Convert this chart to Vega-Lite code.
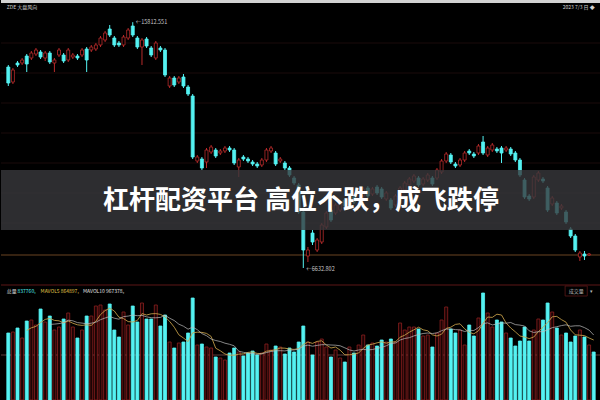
{
"$schema":"https://vega.github.io/schema/vega-lite/v6.json",
"background":"#000000",
"padding":0,
"spacing":0,
"config":{"view":{"stroke":null},"text":{"font":"Noto Sans CJK SC"}},
"datasets":{"k":[
{"i":0,"o":14020,"h":14100,"l":13260,"c":13380,"v":670000},
{"i":1,"o":13420,"h":13980,"l":13340,"c":13900,"v":680000},
{"i":2,"o":14180,"h":14260,"l":14020,"c":14100,"v":720000},
{"i":3,"o":14180,"h":14380,"l":14100,"c":14300,"v":620000},
{"i":4,"o":14460,"h":14540,"l":13820,"c":14140,"v":790000},
{"i":5,"o":14380,"h":14660,"l":14300,"c":14580,"v":800000},
{"i":6,"o":14540,"h":14780,"l":14460,"c":14700,"v":750000},
{"i":7,"o":14620,"h":14700,"l":14340,"c":14420,"v":910000},
{"i":8,"o":14380,"h":14660,"l":14260,"c":14580,"v":780000},
{"i":9,"o":14580,"h":14660,"l":14140,"c":14220,"v":840000},
{"i":10,"o":14180,"h":14380,"l":13820,"c":14300,"v":700000},
{"i":11,"o":14500,"h":14780,"l":14420,"c":14700,"v":730000},
{"i":12,"o":14500,"h":14580,"l":14180,"c":14260,"v":810000},
{"i":13,"o":14300,"h":14780,"l":14220,"c":14700,"v":870000},
{"i":14,"o":14420,"h":14580,"l":14340,"c":14500,"v":730000},
{"i":15,"o":14460,"h":14540,"l":14300,"c":14380,"v":620000},
{"i":16,"o":14500,"h":14780,"l":14420,"c":14700,"v":700000},
{"i":17,"o":14740,"h":14820,"l":13820,"c":14300,"v":840000},
{"i":18,"o":14700,"h":14900,"l":14620,"c":14820,"v":840000},
{"i":19,"o":14740,"h":14980,"l":14660,"c":14900,"v":940000},
{"i":20,"o":14900,"h":15260,"l":14820,"c":15180,"v":950000},
{"i":21,"o":15100,"h":15460,"l":15020,"c":15380,"v":900000},
{"i":22,"o":15540,"h":15700,"l":15220,"c":15300,"v":960000},
{"i":23,"o":15180,"h":15260,"l":14820,"c":14900,"v":700000},
{"i":24,"o":14980,"h":15060,"l":14820,"c":14900,"v":630000},
{"i":25,"o":14900,"h":15300,"l":14820,"c":15220,"v":880000},
{"i":26,"o":15180,"h":15580,"l":15100,"c":15500,"v":750000},
{"i":27,"o":15660,"h":15812.551,"l":15220,"c":15300,"v":940000},
{"i":28,"o":15180,"h":15260,"l":14740,"c":14820,"v":780000},
{"i":29,"o":14820,"h":15180,"l":14100,"c":15100,"v":970000},
{"i":30,"o":15140,"h":15220,"l":14780,"c":14860,"v":810000},
{"i":31,"o":14780,"h":14860,"l":14420,"c":14500,"v":810000},
{"i":32,"o":14380,"h":15060,"l":14300,"c":14980,"v":950000},
{"i":33,"o":14780,"h":14860,"l":14620,"c":14700,"v":740000},
{"i":34,"o":14700,"h":14780,"l":13620,"c":13700,"v":850000},
{"i":35,"o":13260,"h":13660,"l":13180,"c":13580,"v":580000},
{"i":36,"o":13580,"h":13660,"l":13220,"c":13300,"v":520000},
{"i":37,"o":13420,"h":13660,"l":13340,"c":13580,"v":570000},
{"i":38,"o":13620,"h":13740,"l":13180,"c":13260,"v":580000},
{"i":39,"o":13220,"h":13300,"l":12860,"c":12940,"v":670000},
{"i":40,"o":12860,"h":12940,"l":10340,"c":10420,"v":1020000},
{"i":41,"o":10260,"h":10500,"l":10180,"c":10420,"v":550000},
{"i":42,"o":10340,"h":10420,"l":9900,"c":9980,"v":560000},
{"i":43,"o":10220,"h":10780,"l":9980,"c":10700,"v":530000},
{"i":44,"o":10620,"h":10900,"l":10540,"c":10820,"v":520000},
{"i":45,"o":10700,"h":10780,"l":10380,"c":10460,"v":430000},
{"i":46,"o":10580,"h":10740,"l":10500,"c":10660,"v":420000},
{"i":47,"o":10660,"h":10860,"l":10580,"c":10780,"v":400000},
{"i":48,"o":10780,"h":10860,"l":10620,"c":10700,"v":470000},
{"i":49,"o":10700,"h":10780,"l":10100,"c":10180,"v":520000},
{"i":50,"o":10020,"h":10380,"l":9620,"c":10300,"v":480000},
{"i":51,"o":10420,"h":10500,"l":10260,"c":10340,"v":440000},
{"i":52,"o":10340,"h":10420,"l":10180,"c":10260,"v":470000},
{"i":53,"o":10220,"h":10300,"l":10060,"c":10140,"v":490000},
{"i":54,"o":10140,"h":10220,"l":9980,"c":10060,"v":450000},
{"i":55,"o":10100,"h":10380,"l":10020,"c":10300,"v":470000},
{"i":56,"o":10300,"h":10780,"l":10220,"c":10700,"v":560000},
{"i":57,"o":10660,"h":10860,"l":10580,"c":10780,"v":500000},
{"i":58,"o":10580,"h":10660,"l":10060,"c":10140,"v":540000},
{"i":59,"o":10260,"h":10420,"l":10180,"c":10340,"v":530000},
{"i":60,"o":10180,"h":10260,"l":9900,"c":9980,"v":460000},
{"i":61,"o":9980,"h":10060,"l":9620,"c":9700,"v":520000},
{"i":62,"o":9580,"h":9660,"l":9300,"c":9380,"v":480000},
{"i":63,"o":9300,"h":9380,"l":8140,"c":8220,"v":580000},
{"i":64,"o":8220,"h":8300,"l":5980,"c":6700,"v":740000},
{"i":65,"o":6460,"h":6820,"l":6220,"c":6700,"v":580000},
{"i":66,"o":7380,"h":7500,"l":6900,"c":7020,"v":450000},
{"i":67,"o":6700,"h":7180,"l":6620,"c":7100,"v":580000},
{"i":68,"o":7020,"h":7780,"l":6940,"c":7700,"v":610000},
{"i":69,"o":7620,"h":8260,"l":7540,"c":8180,"v":530000},
{"i":70,"o":8300,"h":8380,"l":7820,"c":7900,"v":430000},
{"i":71,"o":8180,"h":8580,"l":8100,"c":8500,"v":500000},
{"i":72,"o":8300,"h":8660,"l":8220,"c":8580,"v":420000},
{"i":73,"o":8700,"h":8780,"l":8380,"c":8460,"v":380000},
{"i":74,"o":8500,"h":8860,"l":8420,"c":8780,"v":530000},
{"i":75,"o":8820,"h":8900,"l":8540,"c":8620,"v":470000},
{"i":76,"o":8700,"h":9060,"l":8620,"c":8980,"v":550000},
{"i":77,"o":8860,"h":9220,"l":8780,"c":9140,"v":650000},
{"i":78,"o":9180,"h":9260,"l":8780,"c":8860,"v":550000},
{"i":79,"o":8940,"h":9220,"l":8860,"c":9140,"v":570000},
{"i":80,"o":9220,"h":9300,"l":8900,"c":8980,"v":540000},
{"i":81,"o":9140,"h":9220,"l":8740,"c":8820,"v":600000},
{"i":82,"o":8740,"h":9060,"l":8660,"c":8980,"v":580000},
{"i":83,"o":8700,"h":8780,"l":8300,"c":8380,"v":610000},
{"i":84,"o":8500,"h":8940,"l":8420,"c":8860,"v":580000},
{"i":85,"o":8820,"h":9260,"l":8740,"c":9180,"v":770000},
{"i":86,"o":9100,"h":9460,"l":9020,"c":9380,"v":700000},
{"i":87,"o":9300,"h":9620,"l":9220,"c":9540,"v":730000},
{"i":88,"o":9460,"h":9740,"l":9380,"c":9660,"v":730000},
{"i":89,"o":9580,"h":9660,"l":9220,"c":9300,"v":710000},
{"i":90,"o":9340,"h":9620,"l":9260,"c":9540,"v":640000},
{"i":91,"o":9500,"h":9780,"l":9420,"c":9700,"v":650000},
{"i":92,"o":9580,"h":9660,"l":9260,"c":9340,"v":530000},
{"i":93,"o":9580,"h":9980,"l":9500,"c":9900,"v":670000},
{"i":94,"o":9820,"h":10340,"l":9740,"c":10260,"v":800000},
{"i":95,"o":10260,"h":10620,"l":10180,"c":10540,"v":930000},
{"i":96,"o":10500,"h":10580,"l":10140,"c":10220,"v":710000},
{"i":97,"o":10140,"h":10220,"l":9980,"c":10060,"v":670000},
{"i":98,"o":10100,"h":10380,"l":10020,"c":10300,"v":700000},
{"i":99,"o":10300,"h":10660,"l":10220,"c":10580,"v":550000},
{"i":100,"o":10660,"h":10740,"l":10500,"c":10580,"v":750000},
{"i":101,"o":10540,"h":10620,"l":10380,"c":10460,"v":640000},
{"i":102,"o":10580,"h":10940,"l":10500,"c":10860,"v":820000},
{"i":103,"o":11020,"h":11260,"l":10500,"c":10580,"v":1070000},
{"i":104,"o":10500,"h":10860,"l":10420,"c":10780,"v":870000},
{"i":105,"o":10700,"h":10980,"l":10620,"c":10900,"v":730000},
{"i":106,"o":10740,"h":10820,"l":10580,"c":10660,"v":800000},
{"i":107,"o":10780,"h":10860,"l":10180,"c":10580,"v":780000},
{"i":108,"o":10700,"h":10860,"l":10620,"c":10780,"v":670000},
{"i":109,"o":10740,"h":10820,"l":10460,"c":10540,"v":620000},
{"i":110,"o":10580,"h":10660,"l":10220,"c":10300,"v":540000},
{"i":111,"o":10300,"h":10380,"l":9620,"c":9700,"v":590000},
{"i":112,"o":9500,"h":9580,"l":8740,"c":8820,"v":730000},
{"i":113,"o":8860,"h":8940,"l":8660,"c":8740,"v":590000},
{"i":114,"o":8820,"h":9700,"l":8740,"c":9620,"v":700000},
{"i":115,"o":9500,"h":9860,"l":9420,"c":9780,"v":810000},
{"i":116,"o":9540,"h":9620,"l":9380,"c":9460,"v":800000},
{"i":117,"o":9180,"h":9260,"l":8220,"c":8300,"v":970000},
{"i":118,"o":8540,"h":8860,"l":8460,"c":8780,"v":880000},
{"i":119,"o":8580,"h":8660,"l":8100,"c":8180,"v":720000},
{"i":120,"o":8380,"h":8540,"l":8300,"c":8460,"v":650000},
{"i":121,"o":8220,"h":8300,"l":7740,"c":7820,"v":670000},
{"i":122,"o":7540,"h":7620,"l":7180,"c":7260,"v":580000},
{"i":123,"o":7260,"h":7340,"l":6620,"c":6700,"v":640000},
{"i":124,"o":6420,"h":6660,"l":6260,"c":6580,"v":700000},
{"i":125,"o":6540,"h":6660,"l":6300,"c":6460,"v":630000},
{"i":126,"o":6500,"h":6580,"l":6460,"c":6540,"v":550000},
{"i":127,"v":480000}
]},
"vconcat":[
{"width":600,"height":282,"layer":[
 {"data":{"values":[{"t":16700,"b":16580}]},"mark":{"type":"rect","color":"#d2d2d2"},
  "encoding":{"y":{"field":"t","type":"quantitative","scale":{"domain":[5420,16700],"nice":false,"zero":false},"axis":null},"y2":{"field":"b"}}},
 {"data":{"values":[{"p":14980},{"p":13780},{"p":12580},{"p":11380},{"p":10180},{"p":8980},{"p":7780}]},"mark":{"type":"rule","color":"#1a0a0a","strokeWidth":1},
  "encoding":{"y":{"field":"p","type":"quantitative","scale":{"domain":[5420,16700],"nice":false,"zero":false},"axis":null}}},
 {"data":{"values":[{"p":6500}]},"mark":{"type":"rule","color":"#6a4422","strokeWidth":1},
  "encoding":{"y":{"field":"p","type":"quantitative","scale":{"domain":[5420,16700],"nice":false,"zero":false},"axis":null}}},
 {"data":{"name":"k"},"mark":{"type":"rule","strokeWidth":1},
  "encoding":{"x":{"field":"i","type":"quantitative","scale":{"domain":[-0.5,127.5],"nice":false,"zero":false},"axis":null},
   "y":{"field":"h","type":"quantitative","scale":{"domain":[5420,16700],"nice":false,"zero":false},"axis":null},"y2":{"field":"l"},
   "color":{"condition":{"test":"datum.c > datum.o","value":"#b82b2b"},"value":"#54f2f2"}}},
 {"data":{"name":"k"},"mark":{"type":"bar","size":3,"strokeWidth":0.8},
  "encoding":{"x":{"field":"i","type":"quantitative","scale":{"domain":[-0.5,127.5],"nice":false,"zero":false},"axis":null},
   "y":{"field":"o","type":"quantitative","scale":{"domain":[5420,16700],"nice":false,"zero":false},"axis":null},"y2":{"field":"c"},
   "fill":{"condition":{"test":"datum.c > datum.o","value":"#000000"},"value":"#54f2f2"},
   "stroke":{"condition":{"test":"datum.c > datum.o","value":"#b82b2b"},"value":"#54f2f2"}}},
 {"data":{"values":[{"i":27,"p":15812.551,"t":"←15812.551"},{"i":64,"p":5950,"t":"←6632.802"}]},
  "mark":{"type":"text","align":"left","baseline":"middle","dx":3,"fontSize":5.5,"color":"#c8c8c8"},
  "encoding":{"x":{"field":"i","type":"quantitative","scale":{"domain":[-0.5,127.5],"nice":false,"zero":false},"axis":null},
   "y":{"field":"p","type":"quantitative","scale":{"domain":[5420,16700],"nice":false,"zero":false},"axis":null},"text":{"field":"t"}}},
 {"data":{"values":[{"t":9900,"b":7500}]},"mark":{"type":"rect","color":"#38383c","opacity":0.8},
  "encoding":{"y":{"field":"t","type":"quantitative","scale":{"domain":[5420,16700],"nice":false,"zero":false},"axis":null},"y2":{"field":"b"}}},
 {"data":{"values":[{"p":8660,"t":"杠杆配资平台 高位不跌，成飞跌停"}]},
  "mark":{"type":"text","align":"center","baseline":"middle","fontSize":26,"fontWeight":"bold","color":"#ffffff","font":"Noto Sans CJK SC"},
  "encoding":{"y":{"field":"p","type":"quantitative","scale":{"domain":[5420,16700],"nice":false,"zero":false},"axis":null},"text":{"field":"t"}}},
 {"data":{"values":[{"i":0,"p":16420,"t":"ZDE  大盘风向"}]},
  "mark":{"type":"text","align":"left","baseline":"middle","dx":-1.5,"fontSize":5,"color":"#d0d0d0"},
  "encoding":{"x":{"field":"i","type":"quantitative","scale":{"domain":[-0.5,127.5],"nice":false,"zero":false},"axis":null},
   "y":{"field":"p","type":"quantitative","scale":{"domain":[5420,16700],"nice":false,"zero":false},"axis":null},"text":{"field":"t"}}},
 {"data":{"values":[{"i":127,"p":16420,"t":"2023 7/3 日 ◆"}]},
  "mark":{"type":"text","align":"right","baseline":"middle","dx":1,"fontSize":5,"color":"#d0d0d0"},
  "encoding":{"x":{"field":"i","type":"quantitative","scale":{"domain":[-0.5,127.5],"nice":false,"zero":false},"axis":null},
   "y":{"field":"p","type":"quantitative","scale":{"domain":[5420,16700],"nice":false,"zero":false},"axis":null},"text":{"field":"t"}}}
]},
{"width":600,"height":118,"layer":[
 {"data":{"values":[{"v":1150000}]},"mark":{"type":"rule","color":"#5c1616","strokeWidth":1},
  "encoding":{"y":{"field":"v","type":"quantitative","scale":{"domain":[0,1180000],"nice":false},"axis":null}}},
 {"data":{"values":[{"v":450000}]},"mark":{"type":"rule","color":"#5e3c3c","strokeWidth":1},
  "encoding":{"y":{"field":"v","type":"quantitative","scale":{"domain":[0,1180000],"nice":false},"axis":null}}},
 {"data":{"name":"k"},"mark":{"type":"bar","size":3,"strokeWidth":0.8},
  "encoding":{"x":{"field":"i","type":"quantitative","scale":{"domain":[-0.5,127.5],"nice":false,"zero":false},"axis":null},
   "y":{"field":"v","type":"quantitative","scale":{"domain":[0,1180000],"nice":false},"axis":null},
   "fill":{"condition":{"test":"datum.c > datum.o","value":"#1a0404"},"value":"#54f2f2"},
   "stroke":{"condition":{"test":"datum.c > datum.o","value":"#8e2020"},"value":"#54f2f2"}}},
 {"data":{"name":"k"},
  "transform":[{"window":[{"op":"mean","field":"v","as":"ma5"}],"frame":[-4,0],"sort":[{"field":"i"}]},{"filter":"datum.i >= 4"}],
  "mark":{"type":"line","color":"#c9a24a","strokeWidth":1,"opacity":0.85},
  "encoding":{"x":{"field":"i","type":"quantitative","scale":{"domain":[-0.5,127.5],"nice":false,"zero":false},"axis":null},
   "y":{"field":"ma5","type":"quantitative","scale":{"domain":[0,1180000],"nice":false},"axis":null}}},
 {"data":{"name":"k"},
  "transform":[{"window":[{"op":"mean","field":"v","as":"ma10"}],"frame":[-9,0],"sort":[{"field":"i"}]},{"filter":"datum.i >= 9"}],
  "mark":{"type":"line","color":"#bdbdbd","strokeWidth":1,"opacity":0.7},
  "encoding":{"x":{"field":"i","type":"quantitative","scale":{"domain":[-0.5,127.5],"nice":false,"zero":false},"axis":null},
   "y":{"field":"ma10","type":"quantitative","scale":{"domain":[0,1180000],"nice":false},"axis":null}}},
 {"data":{"values":[{"i":0,"v":1090000,"t":"总量"}]},
  "mark":{"type":"text","align":"left","baseline":"middle","dx":-1.5,"fontSize":5,"color":"#d8d8d8"},
  "encoding":{"x":{"field":"i","type":"quantitative","scale":{"domain":[-0.5,127.5],"nice":false,"zero":false},"axis":null},
   "y":{"field":"v","type":"quantitative","scale":{"domain":[0,1180000],"nice":false},"axis":null},"text":{"field":"t"}}},
 {"data":{"values":[{"i":2,"v":1090000,"t":"837760,"}]},
  "mark":{"type":"text","align":"left","baseline":"middle","dx":0,"fontSize":5,"color":"#54f2f2"},
  "encoding":{"x":{"field":"i","type":"quantitative","scale":{"domain":[-0.5,127.5],"nice":false,"zero":false},"axis":null},
   "y":{"field":"v","type":"quantitative","scale":{"domain":[0,1180000],"nice":false},"axis":null},"text":{"field":"t"}}},
 {"data":{"values":[{"i":7,"v":1090000,"t":"MAVOL5  864897,"}]},
  "mark":{"type":"text","align":"left","baseline":"middle","dx":0,"fontSize":5,"color":"#e0c84a"},
  "encoding":{"x":{"field":"i","type":"quantitative","scale":{"domain":[-0.5,127.5],"nice":false,"zero":false},"axis":null},
   "y":{"field":"v","type":"quantitative","scale":{"domain":[0,1180000],"nice":false},"axis":null},"text":{"field":"t"}}},
 {"data":{"values":[{"i":16,"v":1090000,"t":"MAVOL10  967378,"}]},
  "mark":{"type":"text","align":"left","baseline":"middle","dx":1,"fontSize":5,"color":"#e0e0e0"},
  "encoding":{"x":{"field":"i","type":"quantitative","scale":{"domain":[-0.5,127.5],"nice":false,"zero":false},"axis":null},
   "y":{"field":"v","type":"quantitative","scale":{"domain":[0,1180000],"nice":false},"axis":null},"text":{"field":"t"}}},
 {"data":{"values":[{"a":120.8,"b":125.6,"t":1140000,"u":1040000}]},
  "mark":{"type":"rect","fill":"#000000","stroke":"#5c1616","strokeWidth":0.8},
  "encoding":{"x":{"field":"a","type":"quantitative","scale":{"domain":[-0.5,127.5],"nice":false,"zero":false},"axis":null},"x2":{"field":"b"},
   "y":{"field":"t","type":"quantitative","scale":{"domain":[0,1180000],"nice":false},"axis":null},"y2":{"field":"u"}}},
 {"data":{"values":[{"i":123.2,"v":1090000,"t":"成交量"},{"i":126.6,"v":1090000,"t":"▾"}]},
  "mark":{"type":"text","align":"center","baseline":"middle","fontSize":5,"color":"#b8b8b8"},
  "encoding":{"x":{"field":"i","type":"quantitative","scale":{"domain":[-0.5,127.5],"nice":false,"zero":false},"axis":null},
   "y":{"field":"v","type":"quantitative","scale":{"domain":[0,1180000],"nice":false},"axis":null},"text":{"field":"t"}}}
]}
]
}
